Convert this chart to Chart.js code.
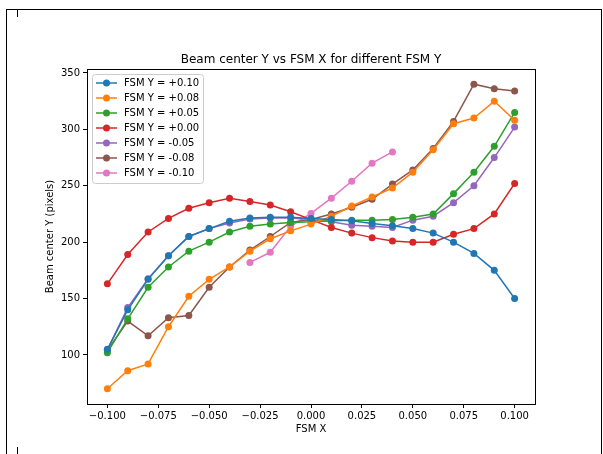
<!DOCTYPE html>
<html lang="en">
<head>
    <meta charset="UTF-8">
    <title>Beam center Y vs FSM X</title>
    <script src="https://cdn.jsdelivr.net/npm/chart.js"></script>
    <style>
        body {
            margin: 0;
            background: #fff;
            width: 603px;
            height: 454px;
            overflow: hidden;
            position: relative;
        }
        #frame {
            position: absolute;
            left: 6px;
            top: 9px;
            width: 594px;
            height: 460px;
            border: 1px solid #000;
            border-bottom: none;
        }
        .mark {
            position: absolute;
            left: 17px;
            width: 1px;
            height: 7px;
            background: #000;
        }
        #wrap {
            position: absolute;
            left: 0;
            top: 0;
            width: 603px;
            height: 454px;
        }
    </style>
</head>
<body>
    <div id="frame"></div>
    <div class="mark" style="top:10px"></div>
    <div class="mark" style="top:447px"></div>
    <div id="wrap"><canvas id="chart" width="603" height="454"></canvas></div>

    <script>
        const fsmX = [-0.10, -0.09, -0.08, -0.07, -0.06, -0.05, -0.04, -0.03, -0.02, -0.01,
                      0.00, 0.01, 0.02, 0.03, 0.04, 0.05, 0.06, 0.07, 0.08, 0.09, 0.10];

        const seriesLabels = ['FSM Y = +0.10', 'FSM Y = +0.08', 'FSM Y = +0.05', 'FSM Y = +0.00',
                              'FSM Y = -0.05', 'FSM Y = -0.08', 'FSM Y = -0.10'];
        const seriesColors = ['#1f77b4', '#ff7f0e', '#2ca02c', '#d62728', '#9467bd', '#8c564b', '#e377c2'];

        const yP010 = [105, 140, 167, 188, 205, 212, 218.5, 221.5, 222, 222, 221, 220, 219, 216.5, 214.5, 212, 208, 200, 190, 175, 150];
        const yP008 = [70, 86, 92, 125, 152, 167, 178, 192, 203, 210, 216, 223, 232, 240, 248, 262, 282, 305, 310, 325, 308];
        const yP005 = [102, 132, 160, 178, 192, 200, 209, 214, 216, 217.5, 218, 219, 219.5, 219.5, 220, 222, 225, 243, 262, 285, 315];
        const yP000 = [163, 189, 209, 221, 230, 235, 239, 236, 233, 227, 220, 213, 208, 204, 201, 200, 200, 207, 212, 225, 252];
        const yM005 = [104.5, 142, 167.5, 188, 205, 212, 217, 220.5, 221.5, 221.5, 220, 218, 215, 214, 213, 219.5, 223, 235, 250, 275, 302];
        const yM008 = [104, 130, 117, 133, 135, 160, 178, 193, 205, 217.5, 220, 225, 231, 238, 251.5, 264, 283, 307, 340, 336, 334];
        const yM010 = [null, null, null, null, null, null, null, 182, 191, 214, 225.5, 239, 254, 270, 280,
                       null, null, null, null, null, null];

        const xTicks = [-0.100, -0.075, -0.050, -0.025, 0.000, 0.025, 0.050, 0.075, 0.100];
        const yTicks = [100, 150, 200, 250, 300, 350];

        const chartTitle = 'Beam center Y vs FSM X for different FSM Y';
        const allSeries = [yP010, yP008, yP005, yP000, yM005, yM008, yM010];
        const FONT = 'DejaVu Sans';

        // axes frame (all four spines) + title centred over the axes
        const framePlugin = {
            id: 'frame',
            afterDatasetsDraw(chart) {
                const a = chart.chartArea;
                const ctx = chart.ctx;
                ctx.save();
                ctx.strokeStyle = '#000';
                ctx.lineWidth = 1;
                ctx.strokeRect(Math.round(a.left) + 0.5, Math.round(a.top) + 0.5,
                    Math.round(a.right - a.left), Math.round(a.bottom - a.top));
                ctx.fillStyle = '#000';
                ctx.font = '12px "' + FONT + '"';
                ctx.textAlign = 'center';
                ctx.textBaseline = 'middle';
                ctx.fillText(chartTitle, (a.left + a.right) / 2, a.top - 9);
                ctx.restore();
            }
        };

        // matplotlib style legend in the upper left of the axes
        const legendPlugin = {
            id: 'mplLegend',
            afterDatasetsDraw(chart) {
                const a = chart.chartArea;
                const ctx = chart.ctx;
                const x0 = a.left + 5, y0 = a.top + 5;
                const w = 111, h = 109;
                ctx.save();
                ctx.beginPath();
                ctx.roundRect(x0 + 0.5, y0 + 0.5, w, h, 3);
                ctx.fillStyle = 'rgba(255,255,255,0.8)';
                ctx.fill();
                ctx.strokeStyle = '#cccccc';
                ctx.lineWidth = 1;
                ctx.stroke();
                ctx.font = '10px "' + FONT + '"';
                ctx.textBaseline = 'middle';
                chart.data.datasets.forEach((ds, i) => {
                    const y = y0 + 9 + i * 15;
                    ctx.strokeStyle = ds.borderColor;
                    ctx.lineWidth = 1.5;
                    ctx.beginPath();
                    ctx.moveTo(x0 + 4, y);
                    ctx.lineTo(x0 + 25, y);
                    ctx.stroke();
                    ctx.fillStyle = ds.borderColor;
                    ctx.beginPath();
                    ctx.arc(x0 + 14.5, y, 3.5, 0, Math.PI * 2);
                    ctx.fill();
                    ctx.fillStyle = '#000';
                    ctx.fillText(ds.label, x0 + 32, y + 0.5);
                });
                ctx.restore();
            }
        };

        const datasets = allSeries.map((vals, i) => ({
            label: seriesLabels[i],
            data: fsmX.map((x, j) => ({ x: x, y: vals[j] })),
            borderColor: seriesColors[i],
            backgroundColor: seriesColors[i],
            borderWidth: 1.5,
            pointRadius: 3.5,
            pointBorderWidth: 0,
            pointHoverRadius: 3.5,
            showLine: true,
            spanGaps: false
        }));

        const fmtMinus = s => s.replace('-', '\u2212');

        new Chart(document.getElementById('chart').getContext('2d'), {
            type: 'scatter',
            data: { datasets: datasets },
            options: {
                responsive: false,
                animation: false,
                layout: { padding: { left: 0, right: 68, top: 69, bottom: 0 } },
                plugins: {
                    legend: { display: false },
                    tooltip: { enabled: false },
                    title: { display: false }
                },
                scales: {
                    x: {
                        type: 'linear',
                        min: -0.11,
                        max: 0.11,
                        afterBuildTicks: s => { s.ticks = xTicks.map(v => ({ value: v })); },
                        afterFit: s => { s.height = 50; s.paddingLeft = 0; s.paddingRight = 0; },
                        border: { display: false },
                        grid: { drawOnChartArea: false, drawTicks: true, tickLength: 4, tickColor: '#000' },
                        ticks: {
                            color: '#000',
                            padding: 2,
                            maxRotation: 0,
                            autoSkip: false,
                            font: { family: FONT, size: 10 },
                            callback: v => fmtMinus(v.toFixed(3))
                        },
                        title: {
                            display: true,
                            text: 'FSM X',
                            color: '#000',
                            font: { family: FONT, size: 10 },
                            padding: { top: 0, bottom: 19 }
                        }
                    },
                    y: {
                        type: 'linear',
                        min: 56.5,
                        max: 353.5,
                        afterBuildTicks: s => { s.ticks = yTicks.map(v => ({ value: v })); },
                        afterFit: s => { s.width = 87; s.paddingTop = 0; s.paddingBottom = 0; },
                        border: { display: false },
                        grid: { drawOnChartArea: false, drawTicks: true, tickLength: 4, tickColor: '#000' },
                        ticks: {
                            color: '#000',
                            padding: 3,
                            autoSkip: false,
                            font: { family: FONT, size: 10 },
                            callback: v => String(v)
                        },
                        title: {
                            display: true,
                            text: 'Beam center Y (pixels)',
                            color: '#000',
                            font: { family: FONT, size: 10 },
                            padding: { top: 44, bottom: 0 }
                        }
                    }
                }
            },
            plugins: [framePlugin, legendPlugin]
        });
    </script>
</body>
</html>
